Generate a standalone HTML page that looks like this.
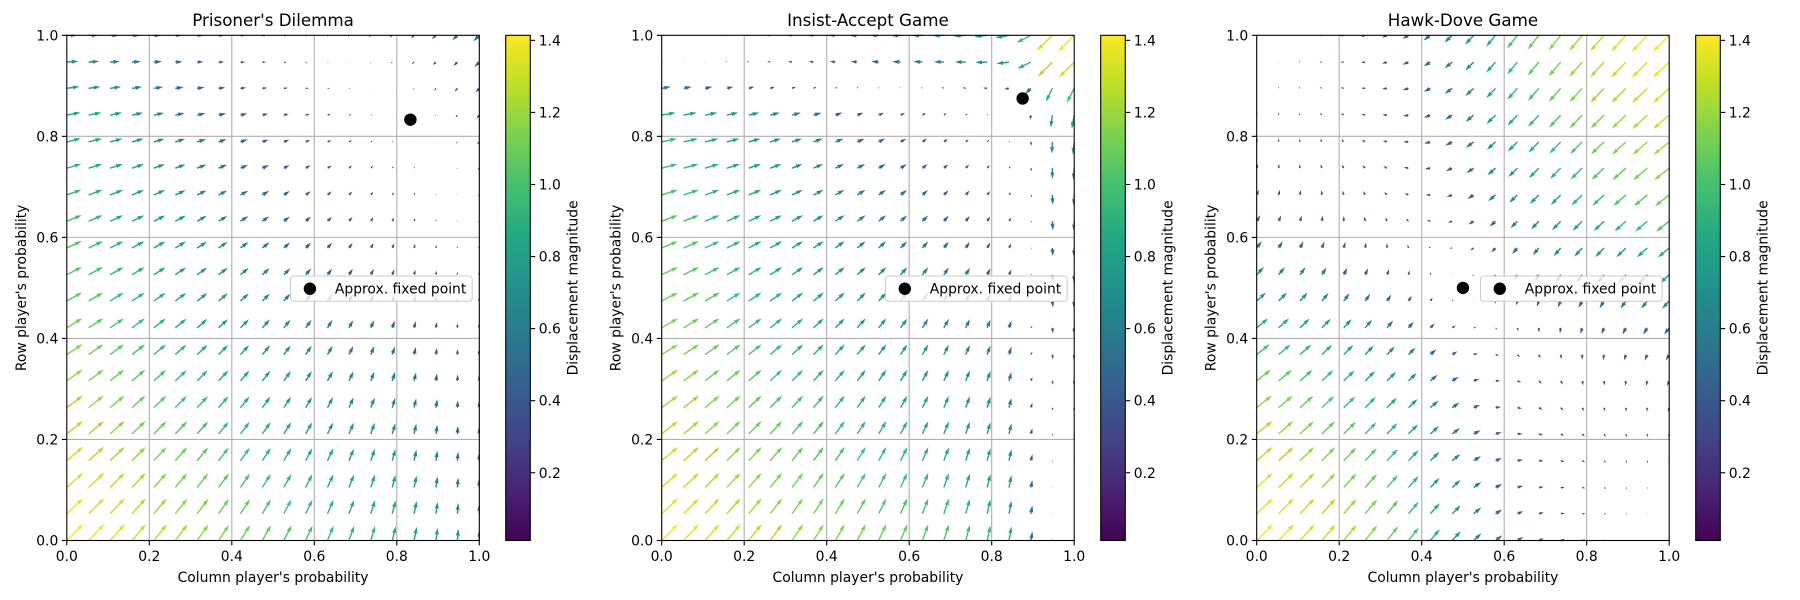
<!DOCTYPE html>
<html><head><meta charset="utf-8">
<style>
html,body{margin:0;padding:0;background:#fff;}
svg{display:block;font-family:"DejaVu Sans","Liberation Sans",sans-serif;}
</style></head>
<body>
<svg id="fig" width="1800" height="600" viewBox="0 0 1800 600" xmlns="http://www.w3.org/2000/svg">
<rect x="0" y="0" width="1800" height="600" fill="#fff"/>
<defs>
<linearGradient id="viridis" x1="0" y1="1" x2="0" y2="0">
<stop offset="0" stop-color="#440154"/><stop offset="0.1" stop-color="#482475"/><stop offset="0.2" stop-color="#414487"/><stop offset="0.3" stop-color="#355f8d"/><stop offset="0.4" stop-color="#2a788e"/><stop offset="0.5" stop-color="#21918c"/><stop offset="0.6" stop-color="#22a884"/><stop offset="0.7" stop-color="#44bf70"/><stop offset="0.8" stop-color="#7ad151"/><stop offset="0.9" stop-color="#bddf26"/><stop offset="1" stop-color="#fde725"/>
</linearGradient>
</defs>
</svg>
<script>
// ---- data ----
const gameTitles = ["Prisoner's Dilemma", "Insist-Accept Game", "Hawk-Dove Game"];
const gridValues = [0,0.053,0.105,0.158,0.211,0.263,0.316,0.368,0.421,0.474,0.526,0.579,0.632,0.684,0.737,0.789,0.842,0.895,0.947,1];
// column player's response target as function of row prob (y index)
const pdColTarget = [1.00,0.995,0.99,0.985,0.98,0.97,0.96,0.95,0.94,0.93,0.92,0.91,0.90,0.89,0.88,0.86,0.83,0.77,0.70,0.64];
const pdRowTarget = [1.00,0.995,0.99,0.985,0.98,0.97,0.96,0.95,0.94,0.93,0.92,0.91,0.90,0.89,0.88,0.86,0.83,0.77,0.70,0.64];
const iaColTarget = [0.99,0.99,0.99,0.99,0.99,0.99,0.99,0.99,0.99,0.99,0.99,0.98,0.98,0.97,0.95,0.92,0.85,0.55,0.08,0.02];
const iaRowTarget = [0.99,0.99,0.99,0.99,0.99,0.99,0.99,0.99,0.99,0.99,0.99,0.98,0.98,0.97,0.95,0.92,0.85,0.55,0.08,0.02];
const hdColTarget = [0.993,0.989,0.981,0.968,0.947,0.915,0.863,0.789,0.688,0.565,0.435,0.312,0.211,0.137,0.085,0.053,0.032,0.019,0.011,0.007];
const hdRowTarget = [0.993,0.989,0.981,0.968,0.947,0.915,0.863,0.789,0.688,0.565,0.435,0.312,0.211,0.137,0.085,0.053,0.032,0.019,0.011,0.007];
const fixedX = [0.833, 0.875, 0.5];
const fixedY = [0.833, 0.875, 0.5];
const axisTicks = ["0.0","0.2","0.4","0.6","0.8","1.0"];
const cbarTicks = ["0.2","0.4","0.6","0.8","1.0","1.2","1.4"];
const magMin = 0.012, magMax = 1.414;

// ---- layout ----
const NS = "http://www.w3.org/2000/svg";
const svg = document.getElementById('fig');
const axLeft = [66.8, 661.7, 1256.7];
const cbLeft = [505.7, 1100.7, 1695.7];
const axTop = 35.3, axW = 412.5, axH = 505.2, cbW = 24.6;
const ARROW_SCALE = 16.5, SW = 1.4;
const vStops = ["#440154","#482475","#414487","#355f8d","#2a788e","#21918c","#22a884","#44bf70","#7ad151","#bddf26","#fde725"];
function hex(c){return [parseInt(c.slice(1,3),16),parseInt(c.slice(3,5),16),parseInt(c.slice(5,7),16)];}
function viridis(t){t=Math.max(0,Math.min(1,t));const p=t*10;const i=Math.min(9,Math.floor(p));const f=p-i;const a=hex(vStops[i]),b=hex(vStops[i+1]);
 return 'rgb('+a.map((v,k)=>Math.round(v+(b[k]-v)*f)).join(',')+')';}
function el(tag, attrs, parent){const e=document.createElementNS(NS,tag);for(const k in attrs)e.setAttribute(k,attrs[k]);(parent||svg).appendChild(e);return e;}
function txt(s, attrs, parent){const e=el('text',attrs,parent);e.textContent=s;return e;}

const targets = [[pdColTarget,pdRowTarget],[iaColTarget,iaRowTarget],[hdColTarget,hdRowTarget]];

for (let p=0;p<3;p++){
  const L = axLeft[p];
  const xs = v => L + v*axW;
  const ys = v => axTop + axH - v*axH;
  const g = el('g',{});
  
  
  const gg = el('g',{},g);
  
  
  for (let k=1;k<5;k++){
    const v=k*0.2;
    el('line',{x1:xs(v),x2:xs(v),y1:axTop,y2:axTop+axH,stroke:'#b0b0b0','stroke-width':1.1},gg);
    el('line',{x1:L,x2:L+axW,y1:ys(v),y2:ys(v),stroke:'#b0b0b0','stroke-width':1.1},gg);
  }
  const qg = el('g',{},g);
  
  
  const colT = targets[p][0], rowT = targets[p][1];
  for (let j=0;j<gridValues.length;j++){
    for (let i=0;i<gridValues.length;i++){
      const x=gridValues[i], y=gridValues[j];
      const u = colT[j]-x, v = rowT[i]-y;
      const mag = Math.hypot(u,v);
      const dx = u*ARROW_SCALE, dy = -v*ARROW_SCALE;
      const len = Math.hypot(dx,dy);
      if (len < 0.05) continue;
      const Lf = Math.max(len, 5.5*SW);
      const hw=SW/2;
      let pts=[[0,-hw],[Lf-4.5*SW,-hw],[Lf-5*SW,-1.5*SW],[Lf,0],[Lf-5*SW,1.5*SW],[Lf-4.5*SW,hw],[0,hw]];
      const sc = len/Lf;
      const ca=dx/len, sa=dy/len;
      const x0=xs(x), y0=ys(y);
      const d = pts.map(q=>{const a=q[0]*sc,b=q[1]*sc;return (x0+a*ca-b*sa).toFixed(2)+','+(y0+a*sa+b*ca).toFixed(2);}).join(' ');
      const poly = el('polygon',{points:d,fill:viridis((mag-magMin)/(magMax-magMin))},qg);
      
      
    }
  }
  const fp = el('circle',{cx:xs(fixedX[p]),cy:ys(fixedY[p]),r:6.2,fill:'#000'},g);
  
  
}
for (let p=0;p<3;p++){
  const L=axLeft[p];
  el('rect',{x:L+axW+0.5,y:0,width:cbLeft[p]-L-axW-1,height:600,fill:'#fff'});
  el('rect',{x:L-30,y:0,width:axW+60,height:axTop-0.5,fill:'#fff'});
}
for (let p=0;p<3;p++){
  const L = axLeft[p];
  const xs = v => L + v*axW;
  const ys = v => axTop + axH - v*axH;
  const g = el('g',{});
  
  
  const fr = el('rect',{x:L,y:axTop,width:axW,height:axH,fill:'none',stroke:'#000','stroke-width':1.1},g);
  
  
  for (let k=0;k<axisTicks.length;k++){
    const v=k*0.2;
    el('line',{x1:xs(v),x2:xs(v),y1:axTop+axH,y2:axTop+axH+4.9,stroke:'#000','stroke-width':1.1},g);
    const xt = txt(axisTicks[k],{x:xs(v),y:561,'font-size':13.9,'text-anchor':'middle',fill:'#000'},g);
    
    
    el('line',{x1:L-4.9,x2:L,y1:ys(v),y2:ys(v),stroke:'#000','stroke-width':1.1},g);
    const yt = txt(axisTicks[k],{x:L-8.5,y:ys(v)+5,'font-size':13.9,'text-anchor':'end',fill:'#000'},g);
    
    
  }
  const t = txt(gameTitles[p],{x:L+axW/2,y:26,'font-size':16.7,'text-anchor':'middle',fill:'#000'},g);
  
  
  const xl = txt("Column player's probability",{x:L+axW/2,y:582,'font-size':13.9,'text-anchor':'middle',fill:'#000'},g);
  
  
  const yx=L-41, yy=axTop+axH/2;
  const yl = txt("Row player's probability",{x:yx,y:yy,'font-size':13.9,'text-anchor':'middle',fill:'#000',transform:'rotate(-90 '+yx+' '+yy+')'},g);
  
  
  const lg = el('g',{},g);
  
  
  const lx = L+axW-188.7;
  el('rect',{x:lx,y:276,width:181.6,height:25.3,rx:2.8,fill:'#fff','fill-opacity':0.8,stroke:'#cccccc','stroke-width':1},lg);
  el('circle',{cx:lx+19.3,cy:288.7,r:6.2,fill:'#000'},lg);
  const le = txt("Approx. fixed point",{x:lx+44.3,y:293.5,'font-size':13.9,fill:'#000'},lg);
  
  
  const C = cbLeft[p];
  const cg = el('g',{},g);
  
  
  el('rect',{x:C,y:axTop,width:cbW,height:axH,fill:'url(#viridis)',stroke:'#000','stroke-width':1.1},cg);
  for (let k=0;k<cbarTicks.length;k++){
    const v=parseFloat(cbarTicks[k]);
    const yv = axTop+axH-(v-magMin)/(magMax-magMin)*axH;
    el('line',{x1:C+cbW,x2:C+cbW+4.9,y1:yv,y2:yv,stroke:'#000','stroke-width':1.1},cg);
    const ct = txt(cbarTicks[k],{x:C+cbW+8.5,y:yv+5,'font-size':13.9,fill:'#000'},cg);
    
    
  }
  const cx=C+72, cy=axTop+axH/2;
  const cl = txt("Displacement magnitude",{x:cx,y:cy,'font-size':13.9,'text-anchor':'middle',fill:'#000',transform:'rotate(-90 '+cx+' '+cy+')'},cg);
  
  
}
</script>
</body></html>
